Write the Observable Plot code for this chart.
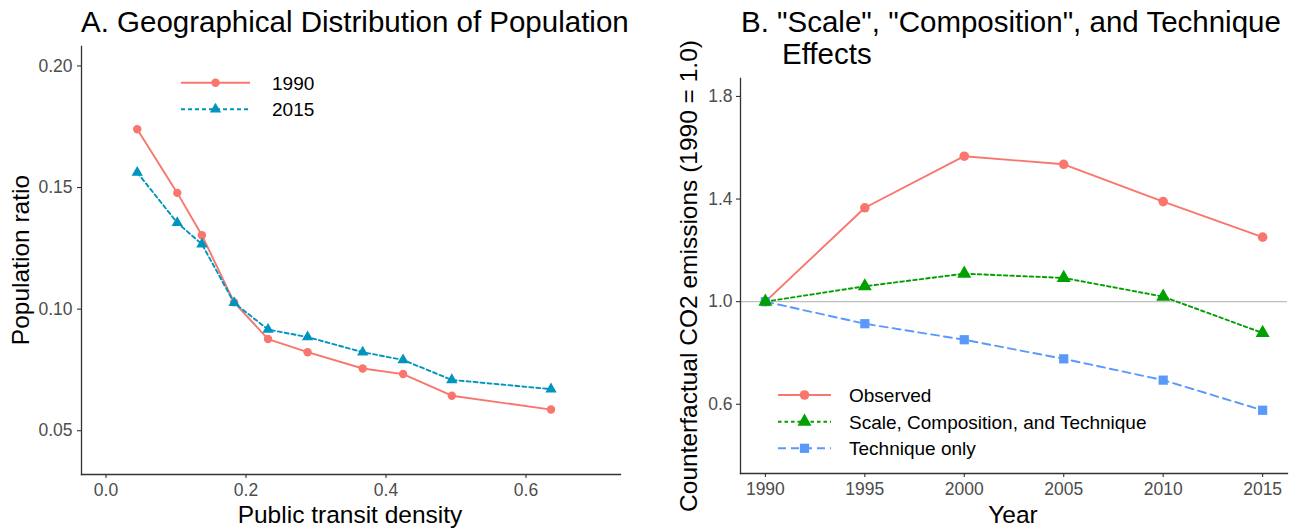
<!DOCTYPE html>
<html>
<head>
<meta charset="utf-8">
<script src="https://cdn.jsdelivr.net/npm/d3@7"></script>
<script src="https://cdn.jsdelivr.net/npm/@observablehq/plot@0.6"></script>
<style>
html, body { margin: 0; padding: 0; background: #fff; }
#wrap { position: relative; width: 1295px; height: 528px; overflow: hidden; background: #fff;
        font-family: "Liberation Sans", Arial, Helvetica, sans-serif; }
.abs { position: absolute; white-space: pre; }
.title { font-size: 29.5px; line-height: 30px; color: #000; }
.axt { font-size: 24.5px; line-height: 24px; color: #000; text-align: center; }
</style>
</head>
<body>
<div id="wrap">
  <div id="plotA" class="abs" style="left:0;top:0"></div>
  <div id="plotB" class="abs" style="left:660px;top:0"></div>
  <div class="abs title" style="left:81px;top:7px">A. Geographical Distribution of Population</div>
  <div class="abs title" style="left:741px;top:7px">B. "Scale", "Composition", and Technique</div>
  <div class="abs title" style="left:782px;top:39px">Effects</div>
  <div class="abs axt" style="left:100px;width:500px;top:503px">Public transit density</div>
  <div class="abs axt" style="left:763px;width:500px;top:503px">Year</div>
  <div class="abs axt" style="left:-229px;width:500px;top:248px;transform:rotate(-90deg)">Population ratio</div>
  <div class="abs axt" style="left:439px;width:500px;top:264px;transform:rotate(-90deg)">Counterfactual CO2 emissions (1990 = 1.0)</div>
</div>
<script>
// ---------- Panel A data ----------
const seriesA = ["1990", "2015"];
const densityX  = [0.0446, 0.1018, 0.137, 0.183, 0.2315, 0.288, 0.3667, 0.4244, 0.494, 0.6357];
const ratio1990 = [0.174, 0.1478, 0.1304, 0.1028, 0.0877, 0.0823, 0.0756, 0.0733, 0.0644, 0.0587];
const ratio2015 = [0.1562, 0.1355, 0.1267, 0.1026, 0.0916, 0.0885, 0.0823, 0.0791, 0.0709, 0.0671];
const xTicksA = [0, 0.2, 0.4, 0.6];
const yTicksA = [0.05, 0.10, 0.15, 0.20];
const xLimitsA = [0, 0.7];
const yLimitsA = [0.04, 0.2];

// ---------- Panel B data ----------
const seriesB = ["Observed", "Scale, Composition, and Technique", "Technique only"];
const years = [1990, 1995, 2000, 2005, 2010, 2015];
const observed      = [1.0, 1.366, 1.567, 1.5355, 1.390, 1.2515];
const scaleCompTech = [1.0, 1.06, 1.109, 1.0925, 1.0195, 0.878];
const techniqueOnly = [1.0, 0.914, 0.8515, 0.777, 0.694, 0.5765];
const yTicksB = [0.6, 1.0, 1.4, 1.8];
const referenceLine = [1.0];
const xLimitsB = [1990, 2015];
const yLimitsB = [0.4, 1.8];

// ---------- styles ----------
const styleA = {
  "1990": {color: "#F8766D", dash: null,  symbol: "circle",   r: 4.2},
  "2015": {color: "#0095BF", dash: "4,3", symbol: "triangle", r: 4.2}
};
const styleB = {
  "Observed": {color: "#F8766D", dash: null, symbol: "circle", r: 4.8},
  "Scale, Composition, and Technique": {color: "#00A000", dash: "3.5,3", symbol: "triangle", r: 5.2},
  "Technique only": {color: "#5A98FA", dash: "8,5", symbol: "square", r: 5.2}
};
const expand = ([a, b]) => [a - (b - a) * 0.05, b + (b - a) * 0.05];

const rowsA = seriesA.flatMap((s, k) =>
  densityX.map((x, i) => ({series: s, x, y: [ratio1990, ratio2015][k][i]})));
const rowsB = seriesB.flatMap((s, k) =>
  years.map((x, i) => ({series: s, x, y: [observed, scaleCompTech, techniqueOnly][k][i]})));

const font = '"Liberation Sans", Arial, Helvetica, sans-serif';
const axisCommon = {stroke: "#333333", fill: "#4D4D4D", fontSize: 17.5, tickSize: 4, label: null, strokeWidth: 1.1};
const LW = 1.9;

function seriesMarks(rows, series, style, lw) {
  const lines = series.map(s => Plot.line(rows.filter(d => d.series === s),
    {x: "x", y: "y", stroke: style[s].color, strokeWidth: lw, strokeDasharray: style[s].dash}));
  const dots = series.map(s => Plot.dot(rows.filter(d => d.series === s),
    {x: "x", y: "y", symbol: style[s].symbol, r: style[s].r, fill: style[s].color}));
  return [...lines, ...dots];
}

const plotA = Plot.plot({
  width: 650, height: 528,
  marginLeft: 81, marginRight: 30, marginTop: 46, marginBottom: 54,
  style: {fontFamily: font, background: "transparent", color: "#4D4D4D"},
  x: {domain: expand(xLimitsA), label: null},
  y: {domain: expand(yLimitsA), label: null},
  marks: [
    Plot.axisX(xTicksA, {...axisCommon, tickPadding: 5, tickFormat: d3.format(".1f")}),
    Plot.axisY(yTicksA, {...axisCommon, tickPadding: 5, tickFormat: d3.format(".2f")}),
    ...seriesMarks(rowsA, seriesA, styleA, LW),
    Plot.frame({anchor: "left", stroke: "#333333", strokeWidth: 1.3}),
    Plot.frame({anchor: "bottom", stroke: "#333333", strokeWidth: 1.3})
  ]
});
document.getElementById("plotA").append(plotA);

// order: observed, technique, scale (green on top)
const drawOrderB = [seriesB[0], seriesB[2], seriesB[1]];
const plotB = Plot.plot({
  width: 635, height: 528,
  marginLeft: 80, marginRight: 8, marginTop: 78, marginBottom: 55,
  style: {fontFamily: font, background: "transparent", color: "#4D4D4D"},
  x: {domain: expand(xLimitsB), label: null},
  y: {domain: expand(yLimitsB), label: null},
  marks: [
    Plot.axisX(years, {...axisCommon, tickPadding: 5, tickFormat: d => String(d)}),
    Plot.axisY(yTicksB, {...axisCommon, tickPadding: 4, tickFormat: d3.format(".1f")}),
    Plot.ruleY(referenceLine, {stroke: "#BEBEBE", strokeWidth: 1.4}),
    ...seriesMarks(rowsB, drawOrderB, styleB, LW),
    Plot.frame({anchor: "left", stroke: "#333333", strokeWidth: 1.3}),
    Plot.frame({anchor: "bottom", stroke: "#333333", strokeWidth: 1.3})
  ]
});
document.getElementById("plotB").append(plotB);

// ---------- legends (overlay) ----------
const overlay = d3.select("#wrap").append("svg")
  .attr("width", 1295).attr("height", 528)
  .style("position", "absolute").style("left", 0).style("top", 0)
  .style("pointer-events", "none").style("font-family", font);

function drawLegend(series, style, {x0, x1, textX, rows}) {
  series.forEach((s, i) => {
    const st = style[s], y = rows[i], cx = (x0 + x1) / 2;
    overlay.append("line").attr("x1", x0).attr("x2", x1).attr("y1", y).attr("y2", y)
      .attr("stroke", st.color).attr("stroke-width", LW)
      .attr("stroke-dasharray", st.dash || null);
    const sym = {circle: d3.symbolCircle, triangle: d3.symbolTriangle, square: d3.symbolSquare}[st.symbol];
    overlay.append("path").attr("d", d3.symbol(sym, Math.PI * st.r * st.r)())
      .attr("transform", `translate(${cx},${y})`).attr("fill", st.color);
    overlay.append("text").attr("x", textX).attr("y", y).attr("dy", "0.36em")
      .attr("font-size", 19).attr("fill", "#000").text(s);
  });
}
drawLegend(seriesA, styleA, {x0: 181, x1: 250, textX: 272, rows: [82.7, 109.3]});
drawLegend(seriesB, styleB, {x0: 778, x1: 831, textX: 849, rows: [395, 421.7, 448.3]});
</script>
</body>
</html>
